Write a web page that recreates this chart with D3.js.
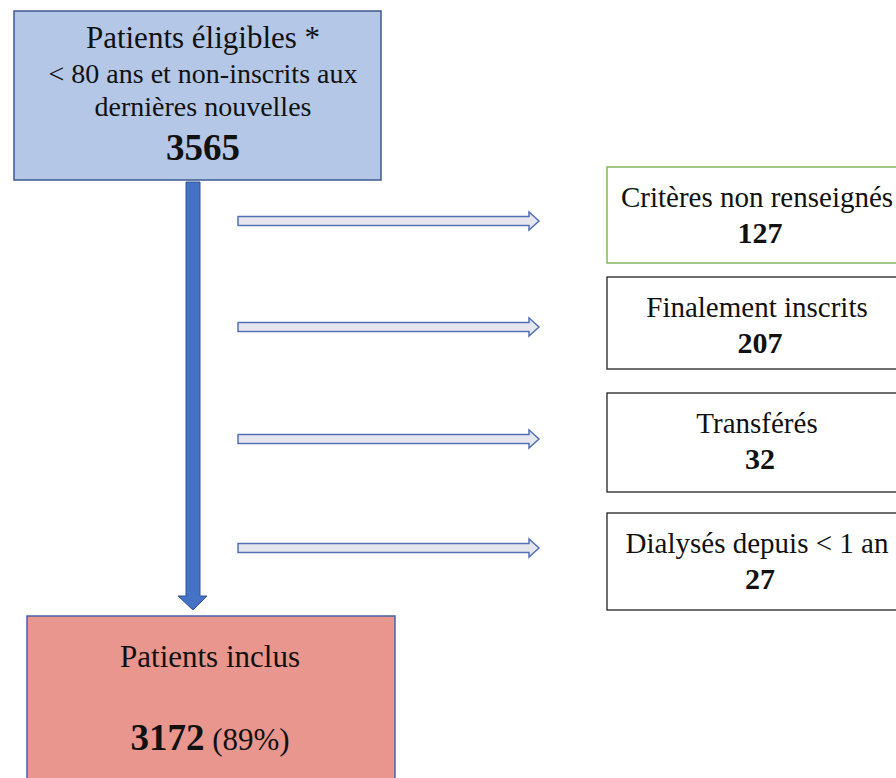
<!DOCTYPE html>
<html>
<head>
<meta charset="utf-8">
<script src="https://cdn.jsdelivr.net/npm/d3@7"></script>
<style>
  body { margin: 0; background: #fff; }
  text { font-family: "Liberation Serif", "Times New Roman", serif; fill: #111; }
</style>
</head>
<body>
<div class="container"></div>
<script>
// Flow data
const topLines = ["Patients éligibles *", "< 80 ans et non-inscrits aux", "dernières nouvelles"];
const topCount = 3565;
const exclLabels = ["Critères non renseignés", "Finalement inscrits", "Transférés", "Dialysés depuis < 1 an"];
const exclCounts = [127, 207, 32, 27];
const finalLabel = "Patients inclus";
const finalCount = 3172;
const finalPct = "(89%)";

const svgWidth = 896, svgHeight = 778;

const svg = d3.select(".container")
    .append("svg")
    .attr("width", svgWidth)
    .attr("height", svgHeight);

// layout of the exclusion rows (boxes are not evenly spaced in the original)
const rowTops = [167, 277, 393, 513];
const rowHeights = [96, 92, 99, 97];
const arrowYs = [221, 327, 439, 548];

//Top box
svg.append("rect")
    .attr("x", 14).attr("y", 11)
    .attr("width", 367).attr("height", 169)
    .attr("fill", "#b4c7e7")
    .attr("stroke", "#3e5a8e")
    .attr("stroke-width", 1.5);

const topText = svg.append("g");
const topSizes = [31, 28, 28];
const topBase = [48, 83, 116];
topLines.forEach((t, i) => {
    topText.append("text")
        .attr("x", 203).attr("y", topBase[i])
        .attr("text-anchor", "middle")
        .style("font-size", topSizes[i] + "px")
        .text(t);
});
topText.append("text")
    .attr("x", 203).attr("y", 160)
    .attr("text-anchor", "middle")
    .style("font-size", "37px")
    .style("font-weight", "bold")
    .text(topCount);

//Main down arrow
const downArrow = d3.path();
downArrow.moveTo(186, 182);
downArrow.lineTo(200, 182);
downArrow.lineTo(200, 596);
downArrow.lineTo(207, 596);
downArrow.lineTo(193, 610);
downArrow.lineTo(178, 596);
downArrow.lineTo(186, 596);
downArrow.closePath();
svg.append("path")
    .attr("d", downArrow.toString())
    .attr("fill", "#4472c4")
    .attr("stroke", "#2f5597")
    .attr("stroke-width", 1);

//Hollow side arrows
function sideArrow(y) {
    const p = d3.path();
    p.moveTo(238, y - 4.5);
    p.lineTo(529, y - 4.5);
    p.lineTo(529, y - 9);
    p.lineTo(539, y);
    p.lineTo(529, y + 9);
    p.lineTo(529, y + 4.5);
    p.lineTo(238, y + 4.5);
    p.closePath();
    return p.toString();
}
svg.selectAll("path.side")
    .data(exclLabels)
    .enter()
    .append("path")
    .attr("class", "side")
    .attr("d", (d, i) => sideArrow(arrowYs[i]))
    .attr("fill", "#e6e7ee")
    .attr("stroke", "#5670b6")
    .attr("stroke-width", 1.5);

//Exclusion boxes
const boxes = svg.selectAll("g.excl")
    .data(exclLabels)
    .enter()
    .append("g")
    .attr("class", "excl")
    .attr("transform", (d, i) => `translate(607, ${rowTops[i]})`);

boxes.append("rect")
    .attr("width", 310)
    .attr("height", (d, i) => rowHeights[i])
    .attr("fill", "#fff")
    .attr("stroke", (d, i) => i === 0 ? "#70ad47" : "#222")
    .attr("stroke-width", 1.3);

boxes.append("text")
    .attr("x", 150).attr("y", 40)
    .attr("text-anchor", "middle")
    .style("font-size", "29px")
    .text(d => d);

boxes.append("text")
    .attr("x", 153).attr("y", 76)
    .attr("text-anchor", "middle")
    .style("font-size", "30px")
    .style("font-weight", "bold")
    .text((d, i) => exclCounts[i]);

//Bottom box
svg.append("rect")
    .attr("x", 27).attr("y", 616)
    .attr("width", 368).attr("height", 180)
    .attr("fill", "#e8968e")
    .attr("stroke", "#4a62a8")
    .attr("stroke-width", 1.5);

svg.append("text")
    .attr("x", 210).attr("y", 667)
    .attr("text-anchor", "middle")
    .style("font-size", "31px")
    .text(finalLabel);

const finalText = svg.append("text")
    .attr("x", 210).attr("y", 750)
    .attr("text-anchor", "middle");
finalText.append("tspan")
    .style("font-size", "37px")
    .style("font-weight", "bold")
    .text(finalCount);
finalText.append("tspan")
    .style("font-size", "31px")
    .text(" " + finalPct);
</script>
</body>
</html>
